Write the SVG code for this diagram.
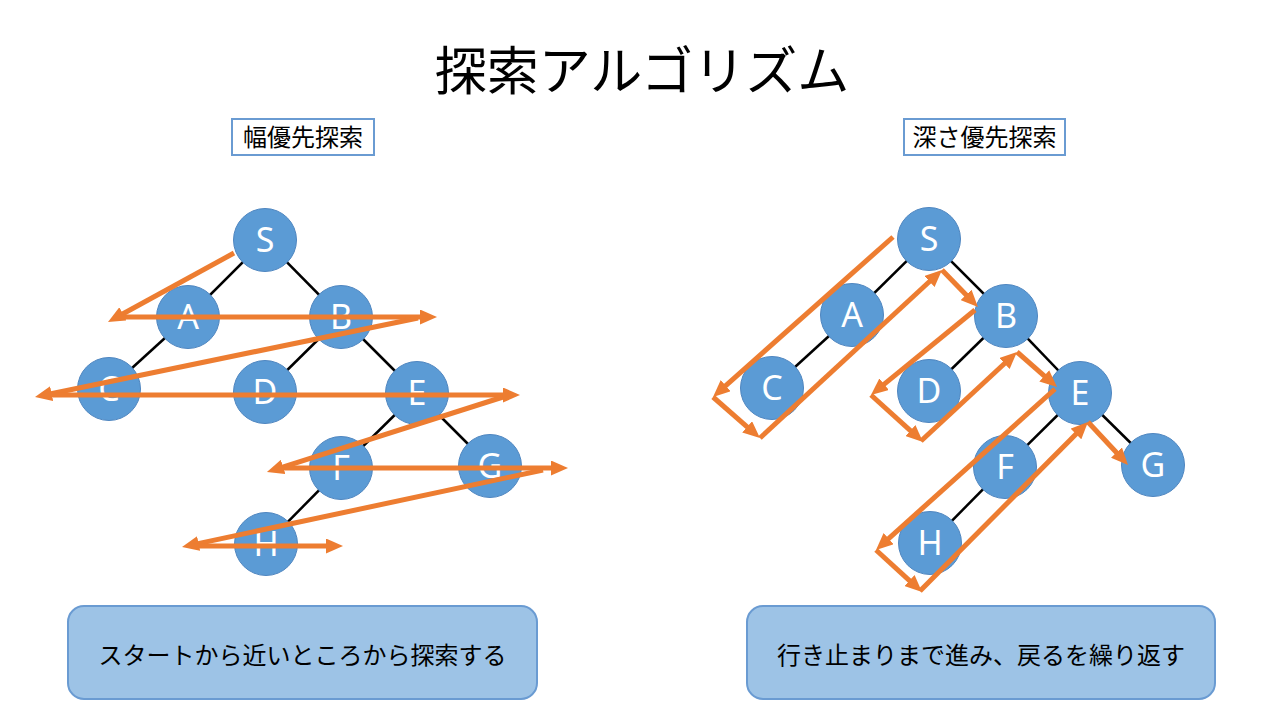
<svg xmlns="http://www.w3.org/2000/svg" width="1280" height="720" viewBox="0 0 1280 720">
<defs>
<marker id="ah" markerUnits="userSpaceOnUse" markerWidth="17" markerHeight="15" refX="3" refY="7.5" orient="auto">
<path d="M0,0 L17,7.5 L0,15 z" fill="#ED7D31"/>
</marker>
</defs>
<style>
.jp{font-family:"Noto Sans CJK JP","Noto Sans",sans-serif;fill:#000}
.node circle{fill:#5B9BD5;stroke:#4F86C0;stroke-width:1}
.node text{font-family:"Noto Sans","Open Sans",sans-serif;font-size:34px;fill:#fff;text-anchor:middle}
.edge{stroke:#000;stroke-width:2.5}
.arr{stroke:#ED7D31;stroke-width:5;fill:none;marker-end:url(#ah)}
.lbl{fill:#fff;stroke:#6A9BD2;stroke-width:2}
.note{fill:#9DC3E6;stroke:#6A9BD2;stroke-width:2}
</style>
<rect width="1280" height="720" fill="#fff"/>
<text class="jp" x="642" y="90" font-size="52" text-anchor="middle">探索アルゴリズム</text>

<g id="label-bfs"><rect class="lbl" x="232" y="119" width="142" height="36"/><text class="jp" x="303" y="146" font-size="24" text-anchor="middle">幅優先探索</text></g>
<g id="label-dfs"><rect class="lbl" x="904" y="119" width="161" height="36"/><text class="jp" x="984.5" y="146" font-size="24" text-anchor="middle">深さ優先探索</text></g>

<g id="edges">
<line class="edge" x1="265" y1="240" x2="188" y2="317"/>
<line class="edge" x1="265" y1="240" x2="341" y2="317"/>
<line class="edge" x1="188" y1="317" x2="109" y2="389"/>
<line class="edge" x1="341" y1="317" x2="265" y2="392"/>
<line class="edge" x1="341" y1="317" x2="417" y2="393"/>
<line class="edge" x1="417" y1="393" x2="341" y2="468"/>
<line class="edge" x1="417" y1="393" x2="490" y2="466"/>
<line class="edge" x1="341" y1="468" x2="266" y2="544"/>
<line class="edge" x1="929" y1="239" x2="852" y2="315"/>
<line class="edge" x1="929" y1="239" x2="1006" y2="316"/>
<line class="edge" x1="852" y1="315" x2="772" y2="388"/>
<line class="edge" x1="1006" y1="316" x2="929" y2="391"/>
<line class="edge" x1="1006" y1="316" x2="1080" y2="393"/>
<line class="edge" x1="1080" y1="393" x2="1005" y2="467"/>
<line class="edge" x1="1080" y1="393" x2="1153" y2="465"/>
<line class="edge" x1="1005" y1="467" x2="930" y2="543"/>
</g>

<g id="bfs-S" class="node"><circle cx="265" cy="240" r="31.5"/><text x="265" y="252">S</text></g>
<g id="bfs-A" class="node"><circle cx="188" cy="317" r="31.5"/><text x="188" y="329">A</text></g>
<g id="bfs-B" class="node"><circle cx="341" cy="317" r="31.5"/><text x="341" y="329">B</text></g>
<g id="bfs-C" class="node"><circle cx="109" cy="389" r="31.5"/><text x="109" y="401">C</text></g>
<g id="bfs-D" class="node"><circle cx="265" cy="392" r="31.5"/><text x="265" y="404">D</text></g>
<g id="bfs-E" class="node"><circle cx="417" cy="393" r="31.5"/><text x="417" y="405">E</text></g>
<g id="bfs-F" class="node"><circle cx="341" cy="468" r="31.5"/><text x="341" y="480">F</text></g>
<g id="bfs-G" class="node"><circle cx="490" cy="466" r="31.5"/><text x="490" y="478">G</text></g>
<g id="bfs-H" class="node"><circle cx="266" cy="544" r="31.5"/><text x="266" y="556">H</text></g>

<g id="dfs-S" class="node"><circle cx="929" cy="239" r="31.5"/><text x="929" y="251">S</text></g>
<g id="dfs-A" class="node"><circle cx="852" cy="315" r="31.5"/><text x="852" y="327">A</text></g>
<g id="dfs-B" class="node"><circle cx="1006" cy="316" r="31.5"/><text x="1006" y="328">B</text></g>
<g id="dfs-C" class="node"><circle cx="772" cy="388" r="31.5"/><text x="772" y="400">C</text></g>
<g id="dfs-D" class="node"><circle cx="929" cy="391" r="31.5"/><text x="929" y="403">D</text></g>
<g id="dfs-E" class="node"><circle cx="1080" cy="393" r="31.5"/><text x="1080" y="405">E</text></g>
<g id="dfs-F" class="node"><circle cx="1005" cy="467" r="31.5"/><text x="1005" y="479">F</text></g>
<g id="dfs-G" class="node"><circle cx="1153" cy="465" r="31.5"/><text x="1153" y="477">G</text></g>
<g id="dfs-H" class="node"><circle cx="930" cy="543" r="31.5"/><text x="930" y="555">H</text></g>

<g id="arrows">
<line class="arr" x1="234" y1="253" x2="120.3" y2="315.3"/>
<line class="arr" x1="120" y1="317" x2="423" y2="317"/>
<line class="arr" x1="418" y1="318" x2="48.7" y2="394.2"/>
<line class="arr" x1="50" y1="395" x2="506" y2="395"/>
<line class="arr" x1="503" y1="397" x2="280.3" y2="467.8"/>
<line class="arr" x1="280" y1="468" x2="554" y2="468"/>
<line class="arr" x1="543" y1="470" x2="195.7" y2="544.1"/>
<line class="arr" x1="193" y1="546" x2="329" y2="546"/>

<line class="arr" x1="893" y1="237" x2="723.5" y2="387.7"/>
<line class="arr" x1="713" y1="397" x2="749.4" y2="428.8"/>
<line class="arr" x1="760" y1="438" x2="931.7" y2="279.5"/>
<line class="arr" x1="942" y1="270" x2="968.2" y2="297"/>
<line class="arr" x1="975" y1="310" x2="881.8" y2="386.1"/>
<line class="arr" x1="871" y1="395" x2="912.6" y2="432.6"/>
<line class="arr" x1="921" y1="441" x2="1006.7" y2="361.5"/>
<line class="arr" x1="1017" y1="352" x2="1046.5" y2="377.8"/>
<line class="arr" x1="1055" y1="389" x2="886.4" y2="540.6"/>
<line class="arr" x1="876" y1="550" x2="911.7" y2="582.6"/>
<line class="arr" x1="920" y1="591" x2="1078.1" y2="431.9"/>
<line class="arr" x1="1088" y1="422" x2="1118.5" y2="454.8"/>
</g>

<g id="note-bfs"><rect class="note" x="68" y="606" width="469" height="93" rx="16"/><text class="jp" x="302.5" y="664" font-size="24" text-anchor="middle">スタートから近いところから探索する</text></g>
<g id="note-dfs"><rect class="note" x="747" y="606" width="468" height="93" rx="16"/><text class="jp" x="981" y="664" font-size="24" text-anchor="middle">行き止まりまで進み、戻るを繰り返す</text></g>
</svg>
